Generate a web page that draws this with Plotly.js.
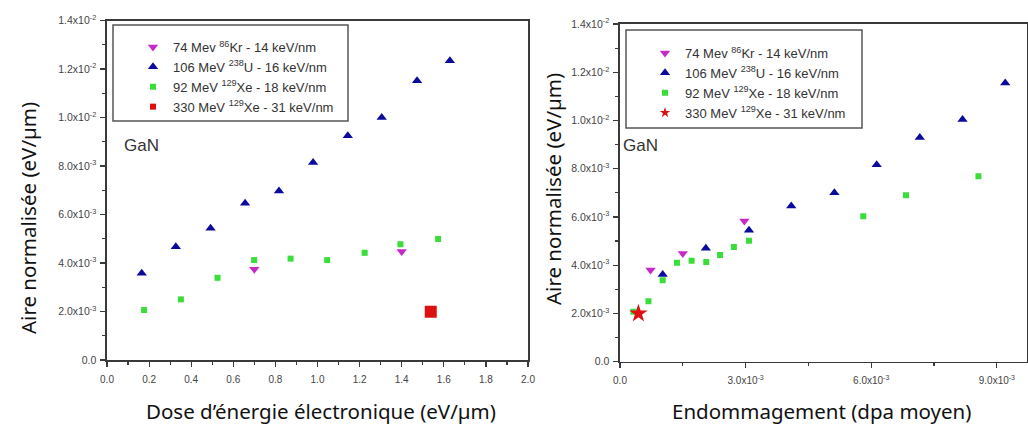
<!DOCTYPE html>
<html>
<head>
<meta charset="utf-8">
<script src="https://cdn.plot.ly/plotly-3.0.1.min.js"></script>
<style>
html,body{margin:0;padding:0;background:#fff;}
#chart{width:1028px;height:426px;}
</style>
</head>
<body>
<div id="chart"></div>
<script>
// ---------- Data ----------
// Left panel: x = Dose d'énergie électronique (eV/µm)
var krX_L = [0.70, 1.40];
var krY_L = [3.74e-3, 4.47e-3];
var uX_L = [0.165, 0.327, 0.492, 0.656, 0.817, 0.979, 1.144, 1.305, 1.473, 1.629];
var uY_L = [3.58e-3, 4.67e-3, 5.43e-3, 6.46e-3, 6.97e-3, 8.14e-3, 9.25e-3, 1.00e-2, 1.152e-2, 1.234e-2];
var xeX_L = [0.176, 0.351, 0.525, 0.699, 0.872, 1.046, 1.224, 1.394, 1.573];
var xeY_L = [2.06e-3, 2.50e-3, 3.39e-3, 4.12e-3, 4.18e-3, 4.12e-3, 4.42e-3, 4.77e-3, 4.99e-3];
var xe330X_L = [1.538];
var xe330Y_L = [1.99e-3];

// Right panel: x = Endommagement (dpa moyen)
var krX_R = [0.73e-3, 1.50e-3, 2.97e-3];
var krY_R = [3.80e-3, 4.49e-3, 5.83e-3];
var uX_R = [1.02e-3, 2.05e-3, 3.08e-3, 4.09e-3, 5.12e-3, 6.13e-3, 7.16e-3, 8.18e-3, 9.20e-3];
var uY_R = [3.62e-3, 4.70e-3, 5.45e-3, 6.46e-3, 7.00e-3, 8.17e-3, 9.29e-3, 1.004e-2, 1.155e-2];
var xeX_R = [0.32e-3, 0.68e-3, 1.02e-3, 1.36e-3, 1.71e-3, 2.06e-3, 2.39e-3, 2.72e-3, 3.08e-3, 5.81e-3, 6.83e-3, 8.56e-3];
var xeY_R = [2.07e-3, 2.51e-3, 3.38e-3, 4.10e-3, 4.18e-3, 4.13e-3, 4.42e-3, 4.76e-3, 5.01e-3, 6.03e-3, 6.90e-3, 7.69e-3];
var xe330X_R = [0.44e-3];
var xe330Y_R = [2.00e-3];

// Series names
var seriesNames = [
  "74 Mev <sup>86</sup>Kr - 14 keV/nm",
  "106 MeV <sup>238</sup>U - 16 keV/nm",
  "92 MeV <sup>129</sup>Xe - 18 keV/nm",
  "330 MeV <sup>129</sup>Xe - 31 keV/nm"
];

// Tick values / labels
var yTickVals = [0, 0.002, 0.004, 0.006, 0.008, 0.010, 0.012, 0.014];
var yTickText = ["0.0", "2.0x10<sup>-3</sup>", "4.0x10<sup>-3</sup>", "6.0x10<sup>-3</sup>",
                 "8.0x10<sup>-3</sup>", "1.0x10<sup>-2</sup>", "1.2x10<sup>-2</sup>", "1.4x10<sup>-2</sup>"];
var xLTickVals = [0, 0.2, 0.4, 0.6, 0.8, 1.0, 1.2, 1.4, 1.6, 1.8, 2.0];
var xLTickText = ["0.0", "0.2", "0.4", "0.6", "0.8", "1.0", "1.2", "1.4", "1.6", "1.8", "2.0"];
var xRTickVals = [0, 0.003, 0.006, 0.009];
var xRTickText = ["0.0", "3.0x10<sup>-3</sup>", "6.0x10<sup>-3</sup>", "9.0x10<sup>-3</sup>"];

// Text
var yTitle = "Aire normalisée (eV/µm)";
var xTitleL = "Dose d’énergie électronique (eV/µm)";
var xTitleR = "Endommagement (dpa moyen)";
var panelLabel = "GaN";

// ---------- Styles ----------
var C_KR = "#c828c8", C_U = "#0a0a9c", C_XE = "#3ade3a", C_RED = "#dd1111";
var legFont = {family: "Liberation Sans, Arial, sans-serif", size: 13, color: "#333"};

function tr(x, y, name, color, symbol, size, xa, ya, leg, show, grp) {
  return {x: x, y: y, name: name, type: "scatter", mode: "markers",
    xaxis: xa, yaxis: ya, legend: leg, showlegend: show, legendgroup: grp,
    marker: {color: color, symbol: symbol, size: size, line: {width: 0}}};
}

var data = [
  tr(krX_L, krY_L, seriesNames[0], C_KR, "triangle-down", 9, "x", "y", "legend", true, "a1"),
  tr(uX_L, uY_L, seriesNames[1], C_U, "triangle-up", 9, "x", "y", "legend", true, "a2"),
  tr(xeX_L, xeY_L, seriesNames[2], C_XE, "square", 6, "x", "y", "legend", true, "a3"),
  tr(xe330X_L, xe330Y_L, seriesNames[3], C_RED, "square", 12, "x", "y", "legend", false, "a4"),
  tr([null], [null], seriesNames[3], C_RED, "square", 6, "x", "y", "legend", true, "a4"),

  tr(krX_R, krY_R, seriesNames[0], C_KR, "triangle-down", 9, "x2", "y2", "legend2", true, "b1"),
  tr(uX_R, uY_R, seriesNames[1], C_U, "triangle-up", 9, "x2", "y2", "legend2", true, "b2"),
  tr(xeX_R, xeY_R, seriesNames[2], C_XE, "square", 6, "x2", "y2", "legend2", true, "b3"),
  tr(xe330X_R, xe330Y_R, seriesNames[3], C_RED, "star", 14, "x2", "y2", "legend2", false, "b4"),
  tr([null], [null], seriesNames[3], C_RED, "star", 8, "x2", "y2", "legend2", true, "b4")
];

var W = 1028, H = 426;
function px(v){ return v / W; }
function py(v){ return (H - v) / H; }

var tickFontX = {family: "Liberation Sans, Arial, sans-serif", size: 10, color: "#444"};
var tickFontY = {family: "Liberation Sans, Arial, sans-serif", size: 10.5, color: "#444"};
function axisBase(extra) {
  var a = {
    showgrid: false, zeroline: false, showline: true, linecolor: "#3a3a3a", linewidth: 1.6,
    mirror: true, ticks: "outside", ticklen: 5, tickwidth: 1.2, tickcolor: "#3a3a3a",
    tickmode: "array", fixedrange: true
  };
  for (var k in extra) a[k] = extra[k];
  return a;
}

var titleFont = {family: "Noto Sans, sans-serif", size: 20.5, color: "#111"};
var ganFont = {family: "Liberation Sans, Arial, sans-serif", size: 17, color: "#333"};

var layout = {
  width: W, height: H,
  margin: {l: 0, r: 0, t: 0, b: 0},
  paper_bgcolor: "#fff", plot_bgcolor: "#fff",
  showlegend: true,
  xaxis: axisBase({domain: [px(107), px(528)], range: [0, 2.0], anchor: "y", tickfont: tickFontX,
    tickvals: xLTickVals, ticktext: xLTickText, ticklabelstandoff: 4,
    minor: {tickmode: "linear", tick0: 0, dtick: 0.1, ticklen: 3, tickcolor: "#3a3a3a", ticks: "outside"}}),
  yaxis: axisBase({domain: [py(360), py(20.5)], range: [0, 0.014], anchor: "x", tickfont: tickFontY,
    tickvals: yTickVals, ticktext: yTickText, ticklabelstandoff: 2,
    minor: {tickmode: "linear", tick0: 0, dtick: 0.001, ticklen: 3, tickcolor: "#3a3a3a", ticks: "outside"}}),
  xaxis2: axisBase({domain: [px(620), px(1027)], range: [0, 0.00972], anchor: "y2", tickfont: tickFontX,
    tickvals: xRTickVals, ticktext: xRTickText, ticklabelstandoff: 4,
    minor: {tickmode: "linear", tick0: 0, dtick: 0.0015, ticklen: 3, tickcolor: "#3a3a3a", ticks: "outside"}}),
  yaxis2: axisBase({domain: [py(361.7), py(24)], range: [0, 0.014], anchor: "x2", tickfont: tickFontY,
    tickvals: yTickVals, ticktext: yTickText, ticklabelstandoff: 2,
    minor: {tickmode: "linear", tick0: 0, dtick: 0.001, ticklen: 3, tickcolor: "#3a3a3a", ticks: "outside"}}),
  legend: {x: px(133), y: py(32), xanchor: "left", yanchor: "top",
    bgcolor: "rgba(0,0,0,0)", borderwidth: 0, font: legFont, tracegroupgap: 0},
  legend2: {x: px(645), y: py(38), xanchor: "left", yanchor: "top",
    bgcolor: "rgba(0,0,0,0)", borderwidth: 0, font: legFont, tracegroupgap: 0},
  shapes: [
    {type: "rect", xref: "paper", yref: "paper", x0: px(113), x1: px(348), y0: py(121), y1: py(25),
     line: {color: "#555", width: 1.5}, fillcolor: "rgba(0,0,0,0)"},
    {type: "rect", xref: "paper", yref: "paper", x0: px(626), x1: px(862), y0: py(128), y1: py(30),
     line: {color: "#555", width: 1.5}, fillcolor: "rgba(0,0,0,0)"}
  ],
  annotations: [
    {text: panelLabel, xref: "paper", yref: "paper", x: px(141), y: py(146), xanchor: "center", yanchor: "middle",
     showarrow: false, font: ganFont},
    {text: panelLabel, xref: "paper", yref: "paper", x: px(640), y: py(145), xanchor: "center", yanchor: "middle",
     showarrow: false, font: ganFont},
    {text: yTitle, xref: "paper", yref: "paper", x: px(28), y: py(218), xanchor: "center", yanchor: "middle",
     textangle: -90, showarrow: false, font: titleFont},
    {text: yTitle, xref: "paper", yref: "paper", x: px(553), y: py(189), xanchor: "center", yanchor: "middle",
     textangle: -90, showarrow: false, font: titleFont},
    {text: xTitleL, xref: "paper", yref: "paper", x: px(321), y: py(411), xanchor: "center", yanchor: "middle",
     showarrow: false, font: titleFont},
    {text: xTitleR, xref: "paper", yref: "paper", x: px(821), y: py(411), xanchor: "center", yanchor: "middle",
     showarrow: false, font: titleFont}
  ]
};

Plotly.newPlot("chart", data, layout, {displayModeBar: false, staticPlot: true});
</script>
</body>
</html>
